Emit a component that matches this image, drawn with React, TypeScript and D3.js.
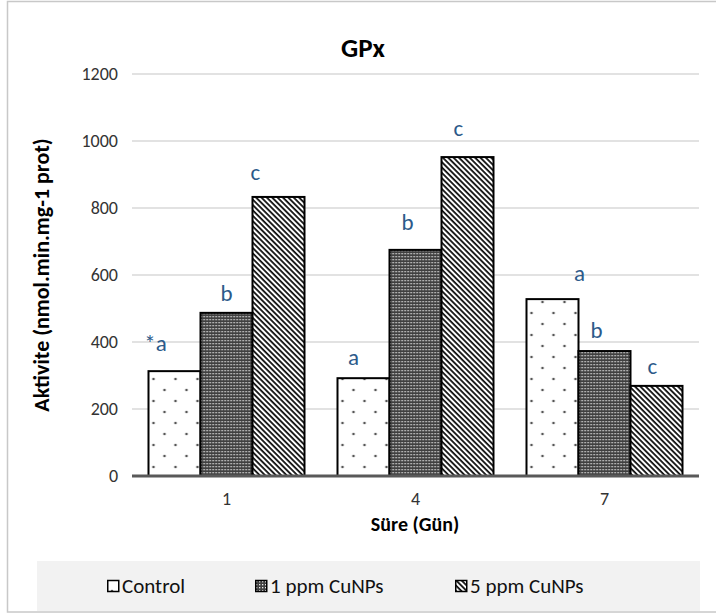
import React from "react";
import * as d3 from "d3";

const categories = ["1", "4", "7"];
const seriesNames = ["Control", "1 ppm CuNPs", "5 ppm CuNPs"];
const controlValues = [313, 292, 528];
const ppm1Values = [487, 675, 373];
const ppm5Values = [833, 952, 269];
const controlLetters = ["*a", "a", "a"];
const ppm1Letters = ["b", "b", "b"];
const ppm5Letters = ["c", "c", "c"];
const yTicks = [0, 200, 400, 600, 800, 1000, 1200];

// small hand nudges for the significance letters (dx, gap above bar)
const letterNudge = [
  [[-19, 28], [0, 20], [-23, 25]],
  [[-10, 21], [-8, 28], [-9, 29]],
  [[27, 26], [-8, 21], [-4, 20]],
];

const W = 716;
const H = 616;
const FONT = "Carlito, Calibri, Lato, 'Open Sans', sans-serif";
const patterns = ["pDots", "pDense", "pDiag"];

const App = () => {
  const values = [controlValues, ppm1Values, ppm5Values];
  const letters = [controlLetters, ppm1Letters, ppm5Letters];

  const x0 = d3
    .scaleBand()
    .domain(categories)
    .range([132, 699])
    .paddingInner(0.1746)
    .paddingOuter(0.0873);
  const x1 = d3
    .scaleBand()
    .domain(seriesNames)
    .range([0, x0.bandwidth()]);
  const y = d3.scaleLinear().domain([0, 1200]).range([476, 74]);

  const legendX = [107, 255, 455];

  return (
    <svg
      width={W}
      height={H}
      style={{ position: "absolute", left: 0, top: 0, background: "#fff" }}
      fontFamily={FONT}
    >
      <defs>
        <pattern id="pDots" width="22" height="22" patternUnits="userSpaceOnUse">
          <rect width="22" height="22" fill="#fff" />
          <circle cx="5" cy="5" r="1.3" fill="#555" />
          <circle cx="16" cy="16" r="1.3" fill="#555" />
        </pattern>
        <pattern id="pDense" width="3" height="3" patternUnits="userSpaceOnUse">
          <rect width="3" height="3" fill="#404040" />
          <rect x="1" y="1" width="1.3" height="1.3" fill="#ececec" />
        </pattern>
        <pattern
          id="pDiag"
          width="3.8"
          height="3.8"
          patternUnits="userSpaceOnUse"
          patternTransform="rotate(-45)"
        >
          <rect width="3.8" height="3.8" fill="#fff" />
          <line x1="1" y1="0" x2="1" y2="3.8" stroke="#111" strokeWidth="1.8" />
        </pattern>
      </defs>

      <rect x={7.5} y={1.5} width={720} height={610.5} fill="#fff" stroke="#c8c8c8" strokeWidth={1.5} />

      <text x={363} y={47} textAnchor="middle" dominantBaseline="central" fontSize={27} fontWeight="bold">
        GPx
      </text>

      {yTicks.map((t) => (
        <g key={t}>
          {t > 0 && (
            <line x1={132} x2={699} y1={y(t)} y2={y(t)} stroke="#d9d9d9" strokeWidth={1.3} />
          )}
          <text x={118} y={y(t)} textAnchor="end" dominantBaseline="central" fontSize={18} fill="#333">
            {t}
          </text>
        </g>
      ))}

      {categories.map((c, ci) => (
        <g key={c} transform={`translate(${x0(c)},0)`}>
          {seriesNames.map((s, si) => {
            const v = values[si][ci];
            const bx = x1(s)!;
            const [dx, gap] = letterNudge[ci][si];
            return (
              <g key={s}>
                <rect
                  x={bx}
                  y={y(v)}
                  width={x1.bandwidth()}
                  height={y(0) - y(v)}
                  fill={`url(#${patterns[si]})`}
                  stroke="#000"
                  strokeWidth={2}
                />
                <text
                  x={bx + x1.bandwidth() / 2 + dx}
                  y={y(v) - gap}
                  textAnchor="middle"
                  dominantBaseline="central"
                  fontSize={23}
                  fill="#2b5a8a"
                >
                  {letters[si][ci]}
                </text>
              </g>
            );
          })}
          <text
            x={x0.bandwidth() / 2}
            y={499}
            textAnchor="middle"
            dominantBaseline="central"
            fontSize={18}
            fill="#333"
          >
            {c}
          </text>
        </g>
      ))}

      <line x1={132} x2={699} y1={y(0)} y2={y(0)} stroke="#595959" strokeWidth={3} />

      <text
        transform={`translate(41,${(y(0) + y(1200)) / 2}) rotate(-90)`}
        textAnchor="middle"
        dominantBaseline="central"
        fontSize={22}
        fontWeight="bold"
      >
        Aktivite (nmol.min.mg-1 prot)
      </text>
      <text x={415} y={524} textAnchor="middle" dominantBaseline="central" fontSize={20} fontWeight="bold">
        Süre (Gün)
      </text>

      <rect x={37} y={561} width={663} height={50} fill="#f2f2f2" />
      {seriesNames.map((s, i) => (
        <g key={s} transform={`translate(${legendX[i]},586)`}>
          <rect x={0.75} y={-5.5} width={11} height={11} fill={`url(#${patterns[i]})`} stroke="#000" strokeWidth={1.5} />
          <text x={15} y={0} dominantBaseline="central" fontSize={21} fill="#111">
            {s}
          </text>
        </g>
      ))}
    </svg>
  );
};

export default App;
